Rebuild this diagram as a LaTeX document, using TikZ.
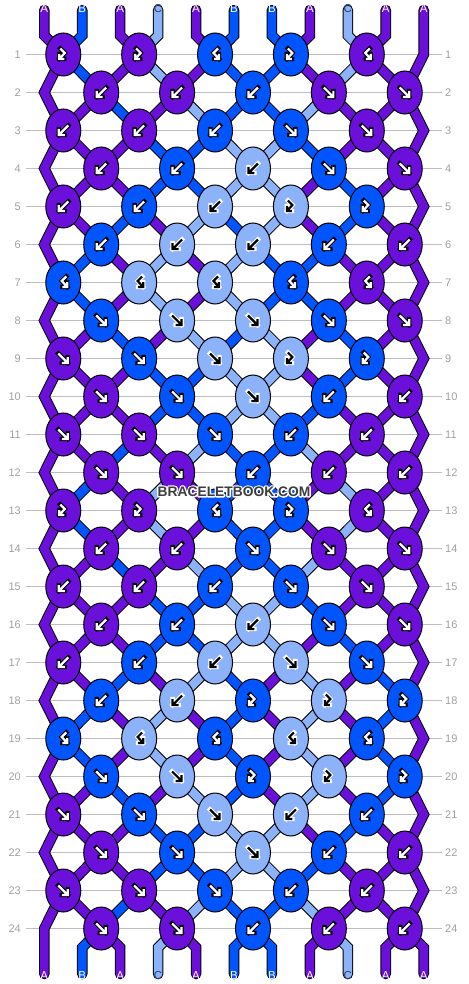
\documentclass[tikz,border=0pt]{standalone}
\usepackage{fontspec}
\setmainfont{Liberation Sans}
\usetikzlibrary{shapes.geometric}
\definecolor{cA}{HTML}{6B0FDB}
\definecolor{cB}{HTML}{0055FF}
\definecolor{cC}{HTML}{8CB2FA}
\definecolor{gridc}{HTML}{BEBEBE}
\definecolor{numc}{HTML}{A0A0A0}
\definecolor{labC}{HTML}{2E3F66}
\definecolor{wm}{HTML}{3C3C3C}
\tikzset{
 strout/.style={line width=10.6pt,draw=black,line join=miter,miter limit=20},
 strin/.style={line width=8.6pt,draw=#1,line join=miter,miter limit=20},
 knot/.style={ellipse,draw=black,line width=1pt,minimum width=35pt,minimum height=43pt,inner sep=0pt},
 gridline/.style={draw=gridc,line width=1pt},
 rownum/.style={text=numc,font=\fontsize{11}{11}\selectfont,inner sep=0pt},
 endlab/.style={font=\fontsize{11.5}{11.5}\selectfont,inner sep=0pt},
 arrout/.style={line width=4.4pt,draw=#1,line join=miter,line cap=rect},
 arrin/.style={line width=2.2pt,draw=#1,line join=miter,line cap=butt},
 wmtext/.style={font=\bfseries\fontsize{13.8}{14}\selectfont,inner sep=0pt},
}
\def\pathf{(-5,-5)--(4.5,4.5) (4.5,-1.5)--(4.5,4.5)--(-1.5,4.5)}
\def\pathb{(5,-5)--(-4.5,4.5) (-4.5,-1.5)--(-4.5,4.5)--(1.5,4.5)}
\def\pathfb{(-3,-6)--(1.5,-1.5)--(-4,4.5) (-4,-0.5)--(-4,4.5)--(1,4.5)}
\def\pathbf{(3,-6)--(-1.5,-1.5)--(4,4.5) (4,-0.5)--(4,4.5)--(-1,4.5)}
\newcommand\knoticon[3]{%
 \ifcase#1\relax\or
  \draw[arrout=#3] \pathf; \draw[arrin=#2] \pathf;
 \or
  \draw[arrout=#3] \pathb; \draw[arrin=#2] \pathb;
 \or
  \draw[arrout=#3] \pathfb; \draw[arrin=#2] \pathfb;
 \or
  \draw[arrout=#3] \pathbf; \draw[arrin=#2] \pathbf;
 \fi}
\newcommand\drawstrings[1]{%
 \foreach \p in {1,...,10}{%
   \pgfmathtruncatemacro\k{floor((\p+1)/2)}%
   \edef\col{c\csname s0-\p\endcsname}%
   \draw[#1=\col,line cap=round] (top-\p) -- (tb-\p) -- (n-1-\k);
 }%
 \edef\col{c\csname s0-11\endcsname}%
 \draw[#1=\col,line cap=round] (top-11) -- (apex-1) -- (n-2-5);
 \foreach \r in {1,...,23}{%
   \pgfmathtruncatemacro\rn{\r+1}%
   \foreach \p in {2,...,10}{%
     \pgfmathtruncatemacro\ka{isodd(\r)?floor((\p+1)/2):floor(\p/2)}%
     \pgfmathtruncatemacro\kb{isodd(\r)?floor(\p/2):floor((\p+1)/2)}%
     \edef\col{c\csname s\r-\p\endcsname}%
     \draw[#1=\col] (n-\r-\ka) -- (n-\rn-\kb);
   }%
 }%
 \foreach \r in {2,...,23}{%
   \pgfmathtruncatemacro\rp{\r-1}%
   \pgfmathtruncatemacro\rn{\r+1}%
   \ifodd\r\relax
     \edef\col{c\csname s\r-11\endcsname}%
     \draw[#1=\col] (n-\rp-5) -- (apex-\r) -- (n-\rn-5);
   \else
     \edef\col{c\csname s\r-1\endcsname}%
     \draw[#1=\col] (n-\rp-1) -- (apex-\r) -- (n-\rn-1);
   \fi
 }%
 \foreach \p in {2,...,11}{%
   \pgfmathtruncatemacro\k{floor(\p/2)}%
   \edef\col{c\csname s24-\p\endcsname}%
   \draw[#1=\col,line cap=round] (n-24-\k) -- (bb-\p) -- (bot-\p);
 }%
 \edef\col{c\csname s24-1\endcsname}%
 \draw[#1=\col,line cap=round] (n-23-1) -- (apex-24) -- (bot-1);
}
\begin{document}
\begin{tikzpicture}[x=1pt,y=-1pt]
\useasboundingbox (0,0) rectangle (468,984);
% ---- simulation of the strings
\foreach \c [count=\i] in {A,B,A,C,A,B,B,A,C,A,A}{\expandafter\xdef\csname s0-\i\endcsname{\c}}
\foreach \tl [count=\r] in {{3,3,4,3,4},{2,2,2,1,1},{2,2,2,1,1},{2,2,2,1,1},{2,2,2,3,3},{2,2,2,2,2},
 {4,4,4,4,4},{1,1,1,1,1},{1,1,1,3,3},{1,1,1,2,2},{1,1,1,2,2},{1,1,2,2,2},
 {3,3,4,3,4},{2,2,1,1,1},{2,2,2,1,1},{2,2,2,1,1},{2,2,2,1,1},{2,2,3,3,3},
 {4,4,4,4,4},{1,1,3,3,3},{1,1,1,2,2},{1,1,1,2,2},{1,1,1,2,2},{1,1,2,2,2}}{%
  \pgfmathtruncatemacro\rp{\r-1}%
  \foreach \i in {1,...,11}{\expandafter\xdef\csname s\r-\i\endcsname{\csname s\rp-\i\endcsname}}%
  \foreach \t [count=\k] in \tl {%
    \pgfmathtruncatemacro\p{isodd(\r)?2*\k-1:2*\k}%
    \pgfmathtruncatemacro\q{\p+1}%
    \edef\L{\csname s\rp-\p\endcsname}%
    \edef\R{\csname s\rp-\q\endcsname}%
    \ifodd\t\relax
      \expandafter\xdef\csname kc\r-\k\endcsname{\L}%
    \else
      \expandafter\xdef\csname kc\r-\k\endcsname{\R}%
    \fi
    \expandafter\xdef\csname kt\r-\k\endcsname{\t}%
    \ifnum\t<3\relax
      \expandafter\xdef\csname s\r-\p\endcsname{\R}%
      \expandafter\xdef\csname s\r-\q\endcsname{\L}%
    \fi
  }%
}
% ---- coordinates
\foreach \r in {1,...,24}{%
  \pgfmathsetmacro\yy{54.5+38*(\r-1)}%
  \foreach \k in {1,...,5}{%
    \pgfmathsetmacro\xx{isodd(\r)?63.27+75.88*(\k-1):101.21+75.88*(\k-1)}%
    \coordinate (n-\r-\k) at (\xx,\yy);
  }%
  \pgfmathsetmacro\ax{isodd(\r)?423.7:44.3}%
  \coordinate (apex-\r) at (\ax,\yy);
  \coordinate (gl-\r) at (26,\yy);
  \coordinate (gr-\r) at (442,\yy);
}
\foreach \p in {1,...,11}{%
  \pgfmathsetmacro\xx{44.3+37.94*(\p-1)}%
  \coordinate (top-\p) at (\xx,10);
  \coordinate (tb-\p) at (\xx,35.5);
  \coordinate (bb-\p) at (\xx,947.5);
  \coordinate (bot-\p) at (\xx,974);
}
% ---- grid and row numbers
\foreach \r in {1,...,24}{%
  \draw[gridline] (gl-\r) -- (gr-\r);
  \node[rownum,anchor=east] (ln-\r) at ([xshift=-5pt]gl-\r) {\r};
  \node[rownum,anchor=west] (rn-\r) at ([xshift=3pt]gr-\r) {\r};
}
% ---- strings
\drawstrings{strout}
\drawstrings{strin}
% ---- knots
\foreach \r in {1,...,24}{%
  \foreach \k in {1,...,5}{%
    \edef\ltr{\csname kc\r-\k\endcsname}%
    \edef\tp{\csname kt\r-\k\endcsname}%
    \node[knot,fill=c\ltr] (k-\r-\k) at (n-\r-\k) {};
    \begin{scope}[shift={(n-\r-\k)}]
      \if C\ltr \knoticon{\tp}{black}{white}\else \knoticon{\tp}{white}{black}\fi
    \end{scope}
  }%
}
% ---- end labels
\foreach \p in {1,...,11}{%
  \edef\lt{\csname s0-\p\endcsname}%
  \edef\lb{\csname s24-\p\endcsname}%
  \if C\lt \def\tc{labC}\else\def\tc{white}\fi
  \node[endlab,text=\tc] (tl-\p) at ([yshift=1pt]top-\p) {\lt};
  \if C\lb \def\tc{labC}\else\def\tc{white}\fi
  \node[endlab,text=\tc] (bl-\p) at ([yshift=-2pt]bot-\p) {\lb};
}
% ---- watermark: white stroked outline under the dark text
\coordinate (wmc) at (234,491.5);
\node[wmtext,text=white] (wmh) at (wmc) {\special{pdf:literal direct 1 Tr 2.8 w 1 j 1 1 1 RG}BRACELETBOOK.COM\special{pdf:literal direct 0 Tr}};
\node[wmtext,text=wm] (wmk) at (wmc) {BRACELETBOOK.COM};
\end{tikzpicture}
\end{document}
